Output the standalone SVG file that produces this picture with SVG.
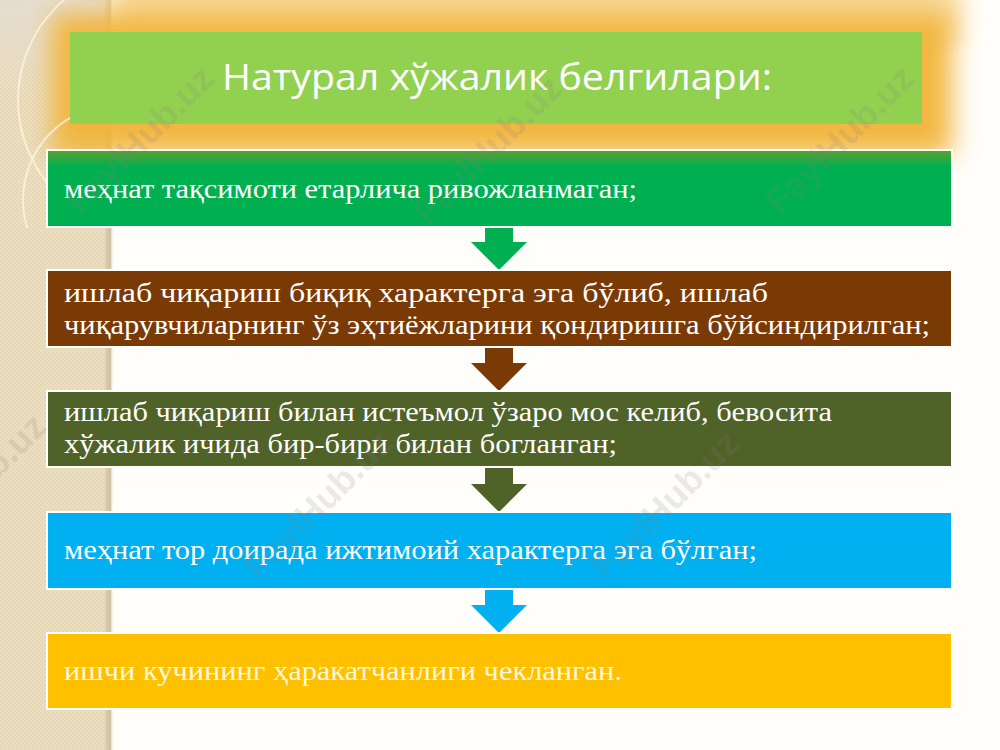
<svg xmlns="http://www.w3.org/2000/svg" width="1000" height="750" viewBox="0 0 1000 750">
<defs>
<style>
.box{stroke:#ffffff;stroke-width:2}
.t{font-family:"Liberation Serif","Times New Roman",serif;font-size:27px;fill:#ffffff}
.wm{font-family:"Liberation Sans",Arial,sans-serif;font-weight:bold;font-size:36px;fill:#808080;opacity:0.16}
</style>
<pattern id="dots" width="4" height="4" patternUnits="userSpaceOnUse">
<rect width="4" height="4" fill="#ecdfc1"/>
<circle cx="1" cy="1" r="0.8" fill="#dccba3"/>
<circle cx="3" cy="3" r="0.8" fill="#e2d3ad"/>
</pattern>
<linearGradient id="stripEdge" x1="0" x2="1" y1="0" y2="0">
<stop offset="0" stop-color="#c9b48a" stop-opacity="0"/>
<stop offset="0.6" stop-color="#b8a27a" stop-opacity="0.8"/>
<stop offset="1" stop-color="#ffffff" stop-opacity="0"/>
</linearGradient>
<linearGradient id="topLeft" x1="0" x2="0" y1="0" y2="1">
<stop offset="0" stop-color="#e4ddcf"/>
<stop offset="1" stop-color="#e4ddcf" stop-opacity="0"/>
</linearGradient>
<linearGradient id="g1" x1="0" x2="0" y1="0" y2="1">
<stop offset="0" stop-color="#5e9e2e"/>
<stop offset="0.22" stop-color="#00b050"/>
<stop offset="1" stop-color="#00b050"/>
</linearGradient>
<filter id="glow" x="-10%" y="-40%" width="120%" height="180%">
<feGaussianBlur stdDeviation="13"/>
</filter>
<clipPath id="circClip">
<rect x="0" y="0" width="116" height="228"/>
</clipPath>
</defs>
<rect width="1000" height="750" fill="#fffefb"/>
<rect x="0" y="0" width="108" height="750" fill="url(#dots)"/>
<rect x="0" y="0" width="108" height="95" fill="url(#topLeft)"/>
<rect x="104" y="0" width="10" height="750" fill="url(#stripEdge)"/>
<g id="glow-bg">
<rect x="110" y="-30" width="850" height="70" fill="#f6d896" filter="url(#glow)" opacity="0.95"/>
<rect x="52" y="14" width="900" height="142" fill="#f2b438" filter="url(#glow)" opacity="0.95"/>
</g>
<g fill="none" stroke="#fff6e2" stroke-width="2" opacity="0.75" clip-path="url(#circClip)">
<circle cx="150" cy="100" r="132"/>
<circle cx="118" cy="200" r="95"/>
</g>
<g id="title">
<rect x="70" y="32" width="852" height="92" fill="#92d050"/>
<text x="497" y="90" text-anchor="middle" font-family="'Open Sans','Noto Sans',sans-serif" font-size="36" fill="#ffffff" textLength="550" lengthAdjust="spacingAndGlyphs">Натурал хўжалик белгилари:</text>
</g>
<g id="connectors">
<polygon fill="#00b050" points="485,226 513,226 513,242 527,242 499,270 471,242 485,242"/>
<polygon fill="#7a3a06" points="485,346 513,346 513,363 527,363 499,391 471,363 485,363"/>
<polygon fill="#4f6228" points="485,466 513,466 513,484 527,484 499,512 471,484 485,484"/>
<polygon fill="#00b0f0" points="485,588 513,588 513,605 527,605 499,633 471,605 485,605"/>
</g>
<g id="node1">
<rect class="box" x="47" y="150" width="905" height="77" fill="url(#g1)"/>
<text class="t" x="64" y="198" textLength="573" lengthAdjust="spacingAndGlyphs">меҳнат тақсимоти етарлича ривожланмаган;</text>
</g>
<g id="node2">
<rect class="box" x="47" y="270" width="905" height="77" fill="#7a3a06"/>
<text class="t" x="64" y="302" textLength="704" lengthAdjust="spacingAndGlyphs">ишлаб чиқариш биқиқ характерга эга бўлиб, ишлаб</text>
<text class="t" x="64" y="334" textLength="866" lengthAdjust="spacingAndGlyphs">чиқарувчиларнинг ўз эҳтиёжларини қондиришга бўйсиндирилган;</text>
</g>
<g id="node3">
<rect class="box" x="47" y="391" width="905" height="76" fill="#4f6228"/>
<text class="t" x="64" y="421" textLength="768" lengthAdjust="spacingAndGlyphs">ишлаб чиқариш билан истеъмол ўзаро мос келиб, бевосита</text>
<text class="t" x="64" y="453" textLength="553" lengthAdjust="spacingAndGlyphs">хўжалик ичида бир-бири билан богланган;</text>
</g>
<g id="node4">
<rect class="box" x="47" y="512" width="905" height="77" fill="#00b0f0"/>
<text class="t" x="64" y="559" textLength="693" lengthAdjust="spacingAndGlyphs">меҳнат тор доирада ижтимоий характерга эга бўлган;</text>
</g>
<g id="node5">
<rect class="box" x="47" y="633" width="905" height="76" fill="#ffc000"/>
<text class="t" x="64" y="680" style="fill:#fff8dc" textLength="558" lengthAdjust="spacingAndGlyphs">ишчи кучининг ҳаракатчанлиги чекланган.</text>
</g>
<g id="watermarks">
<text class="wm" text-anchor="middle" transform="translate(140,140) rotate(-45)" dy="12">FaylHub.uz</text>
<text class="wm" text-anchor="middle" transform="translate(488,150) rotate(-45)" dy="12">FaylHub.uz</text>
<text class="wm" text-anchor="middle" transform="translate(840,140) rotate(-45)" dy="12">FaylHub.uz</text>
<text class="wm" text-anchor="middle" transform="translate(-28,488) rotate(-45)" dy="12">FaylHub.uz</text>
<text class="wm" text-anchor="middle" transform="translate(318,505) rotate(-45)" dy="12">FaylHub.uz</text>
<text class="wm" text-anchor="middle" transform="translate(665,505) rotate(-45)" dy="12">FaylHub.uz</text>
</g>
</svg>
